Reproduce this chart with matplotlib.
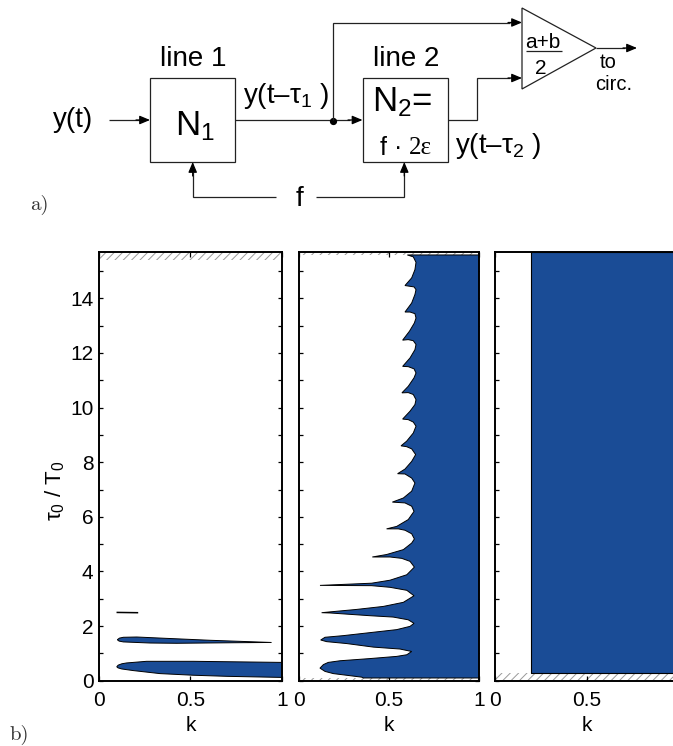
"""Delay line schematic and stability maps in the k / tau0 plane."""

import matplotlib
matplotlib.use("Agg")
import matplotlib.pyplot as plt
from matplotlib.patches import Rectangle, Polygon

plt.rcParams["font.family"] = ["Liberation Sans", "DejaVu Sans"]
plt.rcParams["mathtext.fontset"] = "custom"
plt.rcParams["mathtext.rm"] = "Liberation Sans"
plt.rcParams["mathtext.it"] = "Liberation Sans"
plt.rcParams["mathtext.default"] = "rm"
plt.rcParams["hatch.linewidth"] = 0.7
plt.rcParams["hatch.color"] = "#9a9a9a"

BLUE = "#1a4c96"
W, H = 673, 746
Y_MAX = 15.68

# panel 1: closed islands
lobe0_k = [0.097, 0.105, 0.125, 0.151, 0.26, 0.515, 1.0, 1.0, 0.70, 0.515, 0.333, 0.188, 0.124, 0.104]
lobe0_tau = [0.51, 0.57, 0.62, 0.65, 0.71, 0.71, 0.67, 0.12, 0.16, 0.20, 0.26, 0.37, 0.43, 0.47]
lobe1_k = [0.10, 0.112, 0.133, 0.206, 0.37, 0.607, 0.943, 0.734, 0.424, 0.279, 0.133, 0.11]
lobe1_tau = [1.50, 1.56, 1.59, 1.60, 1.55, 1.48, 1.40, 1.39, 1.37, 1.38, 1.42, 1.45]
lobe2_k = [0.10, 0.21]
lobe2_tau = [2.50, 2.49]

# panel 2: left edge of the unstable region, bottom to top
edge_k = [0.36, 0.35, 0.193, 0.147, 0.119, 0.138, 0.165, 0.23, 0.396, 0.544, 0.60, 0.627,
          0.562, 0.415, 0.267, 0.156, 0.123, 0.147, 0.248, 0.396, 0.544, 0.618,
          0.64, 0.608, 0.525, 0.396, 0.285, 0.175, 0.128, 0.175, 0.322, 0.47,
          0.581, 0.64, 0.60, 0.507, 0.405, 0.119, 0.405, 0.507, 0.60, 0.642,
          0.618, 0.572, 0.507, 0.409, 0.488, 0.581, 0.627, 0.642, 0.627, 0.59,
          0.553, 0.488, 0.544, 0.608, 0.64, 0.627, 0.59, 0.52, 0.581, 0.627,
          0.645, 0.627, 0.59, 0.549, 0.59, 0.627, 0.649, 0.627, 0.599, 0.568,
          0.599, 0.636, 0.651, 0.636, 0.608, 0.577, 0.618, 0.645, 0.651, 0.636,
          0.608, 0.573, 0.608, 0.64, 0.651, 0.64, 0.608, 0.577, 0.618, 0.645,
          0.651, 0.636, 0.608, 0.577, 0.615, 0.642, 0.651, 0.645, 0.618, 0.59,
          0.627, 0.645, 0.651, 0.64, 0.59, 0.627, 0.645, 0.651, 0.636, 0.603]
edge_tau = [0.10, 0.13, 0.26, 0.34, 0.46, 0.59, 0.67, 0.73, 0.81, 0.89, 0.95, 1.07,
            1.16, 1.23, 1.36, 1.43, 1.49, 1.59, 1.65, 1.76, 1.87, 1.99,
            2.10, 2.23, 2.33, 2.38, 2.43, 2.48, 2.49, 2.52, 2.61, 2.72,
            2.87, 3.11, 3.31, 3.42, 3.48, 3.49, 3.57, 3.68, 3.88, 4.16,
            4.37, 4.48, 4.53, 4.53, 4.62, 4.80, 5.04, 5.19, 5.38, 5.51,
            5.56, 5.56, 5.65, 5.90, 6.20, 6.39, 6.51, 6.54, 6.69, 6.94,
            7.24, 7.42, 7.57, 7.58, 7.75, 8.03, 8.28, 8.49, 8.57, 8.60,
            8.77, 9.07, 9.32, 9.47, 9.56, 9.58, 9.87, 10.11, 10.29, 10.48,
            10.55, 10.54, 10.78, 11.09, 11.27, 11.42, 11.50, 11.51, 11.82, 12.12,
            12.31, 12.45, 12.49, 12.47, 12.80, 13.10, 13.28, 13.44, 13.50, 13.50,
            13.83, 14.14, 14.32, 14.42, 14.47, 14.75, 15.05, 15.32, 15.52, 15.59]

# panel 3: everything right of k_start and above tau_start
block_k_start = 0.195
block_tau_start = 0.28

# hatched bands (no data) per panel, as (low, high) in tau0/T0
bands_1 = [(15.42, Y_MAX)]
bands_2 = [(0.0, 0.10), (15.59, Y_MAX)]
bands_3 = [(0.0, 0.28)]

x_ticks = [0, 0.5, 1]
x_tick_labels = ["0", "0.5", "1"]
y_ticks = list(range(0, 16))
y_tick_labels = [str(v) if v % 2 == 0 else "" for v in y_ticks]

fig = plt.figure(figsize=(W / 100, H / 100), dpi=100)


def make_panel(left, right, bands, show_y=False):
    ax = fig.add_axes([left / W, 1 - 680.7 / H, (right - left) / W, (680.7 - 252.5) / H])
    ax.set_xlim(0, 1)
    ax.set_ylim(0, Y_MAX)
    ax.set_xticks(x_ticks)
    ax.set_xticklabels(x_tick_labels)
    ax.set_yticks(y_ticks)
    ax.set_yticklabels(y_tick_labels if show_y else [])
    ax.tick_params(direction="in", top=True, right=True, length=3.5, width=0.9,
                   labelsize=15, pad=7.5)
    ax.tick_params(axis="y", pad=4, length=3)
    ax.set_xlabel("k", fontsize=15, labelpad=4.5)
    for spine in ax.spines.values():
        spine.set_linewidth(1.4)
    for low, high in bands:
        ax.fill_between([0, 1], low, high, facecolor="none", edgecolor="#9a9a9a",
                        hatch="////", linewidth=0, zorder=1)
    return ax


ax1 = make_panel(99, 282, bands_1, show_y=True)
ax1.fill(lobe0_k, lobe0_tau, facecolor=BLUE, edgecolor="black", linewidth=0.7, zorder=2)
ax1.fill(lobe1_k, lobe1_tau, facecolor=BLUE, edgecolor="black", linewidth=0.7, zorder=2)
ax1.plot(lobe2_k, lobe2_tau, color="black", linewidth=1.1, zorder=2)

ax2 = make_panel(298.5, 479, bands_2)
ax2.fill(edge_k + [1.0, 1.0], edge_tau + [edge_tau[-1], edge_tau[0]],
         facecolor=BLUE, edgecolor="black", linewidth=0.7, zorder=2)

ax3 = make_panel(495, 678, bands_3)
ax3.fill_between([block_k_start, 1], block_tau_start, Y_MAX, facecolor=BLUE,
                 edgecolor="black", linewidth=0.8, zorder=2)

# schematic and loose labels, drawn in image pixels
ov = fig.add_axes([0, 0, 1, 1], zorder=5)
ov.set_xlim(0, W)
ov.set_ylim(H, 0)
ov.axis("off")
ov.patch.set_alpha(0)

LINE = "#222222"


def wire(xs, ys):
    ov.plot(xs, ys, color=LINE, linewidth=0.9, solid_capstyle="butt", solid_joinstyle="miter")


def arrow(x0, y0, x1, y1):
    ov.annotate("", xy=(x1, y1), xytext=(x0, y0),
                arrowprops=dict(arrowstyle="-|>,head_length=0.62,head_width=0.26",
                                color="black", lw=0.9, shrinkA=0, shrinkB=0))


for x0 in (150, 362.5):
    ov.add_patch(Rectangle((x0, 77.5), 85, 84.5, facecolor="white", edgecolor=LINE, linewidth=0.9))
ov.add_patch(Polygon([(522, 8), (522, 89), (596, 48)], closed=True, facecolor="white",
                     edgecolor=LINE, linewidth=0.9))

wire([108.5, 140], [120, 120])
arrow(136, 120, 150, 120)
wire([235, 350], [120, 120])
arrow(348, 120, 362.5, 120)
ov.plot([332.5], [120.5], "o", color="black", markersize=4.2)
wire([332.5, 332.5, 510], [120, 22.5, 22.5])
arrow(508, 22.5, 522, 22.5)
wire([447.5, 477, 477, 510], [120, 120, 78, 78])
arrow(508, 78, 522, 78)
wire([596, 625], [48, 48])
arrow(623, 48, 637, 48)
wire([276, 192.7, 192.7], [196.5, 196.5, 172])
arrow(192.7, 176, 192.7, 162)
wire([315.5, 404.3, 404.3], [196.5, 196.5, 172])
arrow(404.3, 176, 404.3, 162)
wire([526, 562], [51, 51])


def label(x, y, s, size=20, **kw):
    kw.setdefault("ha", "center")
    ov.text(x, y, s, fontsize=size, va="center", **kw)


label(73, 120, "y(t)")
label(193, 59, "line 1")
label(406, 59, "line 2")
label(195, 126, r"N$_1$", size=25)
label(372, 102, r"N$_2$=", size=25, ha="left")
label(380, 148, "f ·", size=18, ha="left")
label(409, 148, "2ε", size=18, ha="left", family="Liberation Serif")
label(286, 96, "y(t–τ$_1$ )")
label(498, 146, "y(t–τ$_2$ )")
label(299, 199, "f")
label(543, 42, "a+b", size=15)
label(541, 68, "2", size=15)
label(608, 63, "to", size=14.5)
label(614, 85, "circ.", size=14.5)
label(55, 491, "τ$_0$ / T$_0$", size=16, rotation=90)
label(39, 205, "a)", size=15, family="cmr10", color="#333333")
label(19, 735, "b)", size=15, family="cmr10", color="#333333")

fig.savefig("out.png", dpi=100)
